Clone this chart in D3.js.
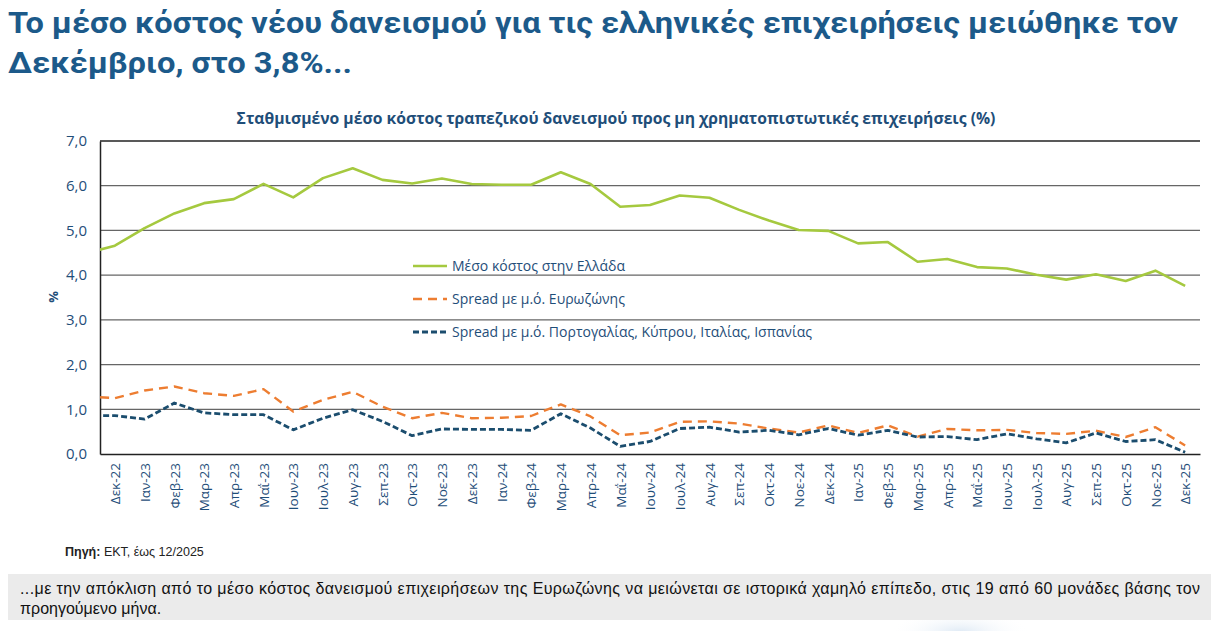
<!DOCTYPE html>
<html>
<head>
<meta charset="utf-8">
<script src="https://cdn.jsdelivr.net/npm/d3@7"></script>
<style>
	body { margin: 0; background: #fff; }
	svg { display: block; }
</style>
</head>
<body>
<div id="chart"></div>
<script>
// months, first one (Νοε-22) sits just left of the plot and is clipped
var months = ["Νοε-22", "Δεκ-22", "Ιαν-23", "Φεβ-23", "Μαρ-23", "Απρ-23", "Μαΐ-23", "Ιουν-23", "Ιουλ-23", "Αυγ-23",
	"Σεπ-23", "Οκτ-23", "Νοε-23", "Δεκ-23", "Ιαν-24", "Φεβ-24", "Μαρ-24", "Απρ-24", "Μαΐ-24", "Ιουν-24",
	"Ιουλ-24", "Αυγ-24", "Σεπ-24", "Οκτ-24", "Νοε-24", "Δεκ-24", "Ιαν-25", "Φεβ-25", "Μαρ-25", "Απρ-25",
	"Μαΐ-25", "Ιουν-25", "Ιουλ-25", "Αυγ-25", "Σεπ-25", "Οκτ-25", "Νοε-25", "Δεκ-25"];

var greece = [4.48, 4.66, 5.05, 5.38, 5.61, 5.70, 6.04, 5.74, 6.17, 6.39,
	6.13, 6.05, 6.16, 6.04, 6.02, 6.02, 6.30, 6.04, 5.53, 5.57,
	5.78, 5.73, 5.46, 5.22, 5.01, 4.99, 4.71, 4.74, 4.30, 4.36,
	4.18, 4.15, 4.01, 3.90, 4.02, 3.87, 4.10, 3.76];

var spreadEA = [1.29, 1.25, 1.42, 1.51, 1.36, 1.30, 1.45, 0.95, 1.21, 1.39,
	1.06, 0.80, 0.92, 0.80, 0.81, 0.85, 1.11, 0.84, 0.42, 0.48,
	0.72, 0.73, 0.68, 0.57, 0.48, 0.64, 0.47, 0.64, 0.39, 0.56,
	0.53, 0.54, 0.47, 0.45, 0.52, 0.38, 0.60, 0.19];

var spreadSouth = [0.86, 0.86, 0.78, 1.14, 0.92, 0.88, 0.88, 0.54, 0.80, 0.99,
	0.73, 0.41, 0.56, 0.55, 0.55, 0.53, 0.90, 0.58, 0.17, 0.28,
	0.57, 0.60, 0.49, 0.53, 0.43, 0.57, 0.42, 0.53, 0.38, 0.39,
	0.32, 0.45, 0.34, 0.25, 0.47, 0.28, 0.32, 0.04];

var yTicks = [0, 1, 2, 3, 4, 5, 6, 7];

var legendNames = ["Μέσο κόστος στην Ελλάδα", "Spread με μ.ό. Ευρωζώνης",
	"Spread με μ.ό. Πορτογαλίας, Κύπρου, Ιταλίας, Ισπανίας"];

var W = 1227, H = 631;
var plot = {left: 100, right: 1200, top: 141, bottom: 454};
var textBlue = "#1f4e79";

var svg = d3.select("#chart").append("svg")
	.attr("width", W)
	.attr("height", H)
	.style("font-family", "'Open Sans', 'Noto Sans', sans-serif");

// faint blue blob bottom right
var grad = svg.append("defs").append("radialGradient").attr("id", "blob");
grad.append("stop").attr("offset", "0%").attr("stop-color", "#dfeaf5");
grad.append("stop").attr("offset", "100%").attr("stop-color", "#ffffff").attr("stop-opacity", 0);
svg.append("ellipse")
	.attr("cx", 960)
	.attr("cy", 632)
	.attr("rx", 70)
	.attr("ry", 22)
	.attr("fill", "url(#blob)");

// main heading
var heading = ["Το μέσο κόστος νέου δανεισμού για τις ελληνικές επιχειρήσεις μειώθηκε τον", "Δεκέμβριο, στο 3,8%..."];
svg.selectAll(".heading")
	.data(heading).enter()
	.append("text")
	.attr("class", "heading")
	.attr("x", 8)
	.attr("y", function(d, i) { return 33 + 40 * i; })
	.attr("fill", "#1c5a8a")
	.style("font-family", "Roboto, sans-serif")
	.style("font-weight", "700")
	.style("font-size", "30px")
	.attr("textLength", function(d, i) { return i == 0 ? 1170 : 344; })
	.attr("lengthAdjust", "spacingAndGlyphs")
	.text(function(d) { return d; });

// chart subtitle
svg.append("text")
	.attr("x", 616)
	.attr("y", 124)
	.attr("text-anchor", "middle")
	.attr("fill", "#1f4e79")
	.style("font-weight", "700")
	.style("font-size", "15.7px")
	.text("Σταθμισμένο μέσο κόστος τραπεζικού δανεισμού προς μη χρηματοπιστωτικές επιχειρήσεις (%)");

var x = d3.scaleLinear()
	.domain([-0.5, months.length - 1.5])
	.range([plot.left, plot.right]);

var y = d3.scaleLinear()
	.domain([0, 7])
	.range([plot.bottom, plot.top]);

// gridlines
svg.append("g")
	.selectAll("line")
	.data(yTicks.slice(1)).enter()
	.append("line")
	.attr("x1", plot.left)
	.attr("x2", plot.right)
	.attr("y1", function(d) { return y(d); })
	.attr("y2", function(d) { return y(d); })
	.attr("stroke", function(d) { return d == 7 ? "#222" : "#666"; })
	.attr("stroke-width", 1.3);

// y axis
var yAxis = svg.append("g")
	.attr("transform", "translate(" + plot.left + ",0)")
	.call(d3.axisLeft(y).tickValues(yTicks).tickSize(0).tickPadding(13)
		.tickFormat(function(d) { return d3.format(".1f")(d).replace(".", ","); }));
yAxis.select(".domain").attr("stroke", "#222").attr("stroke-width", 1.5);
yAxis.selectAll("text")
	.attr("fill", textBlue)
	.style("font-size", "15px")
	.style("font-family", "'Open Sans', sans-serif");

svg.append("text")
	.attr("transform", "translate(58,297) rotate(-90)")
	.attr("text-anchor", "middle")
	.attr("fill", textBlue)
	.style("font-weight", "700")
	.style("font-size", "13px")
	.text("%");

// x axis
var xAxis = svg.append("g")
	.attr("transform", "translate(0," + plot.bottom + ")")
	.call(d3.axisBottom(x).tickValues(d3.range(0, months.length - 1)).tickSize(0)
		.tickFormat(function(d) { return months[d + 1]; }));
xAxis.select(".domain").attr("stroke", "#222").attr("stroke-width", 1.5);
xAxis.selectAll("text")
	.attr("transform", "rotate(-90)")
	.attr("text-anchor", "end")
	.attr("x", -9)
	.attr("y", 0)
	.attr("dy", "0.35em")
	.attr("fill", textBlue)
	.style("font-size", "13.5px")
	.style("font-family", "'Open Sans', sans-serif");

// clip lines to plot
svg.append("clipPath")
	.attr("id", "plotclip")
	.append("rect")
	.attr("x", plot.left)
	.attr("y", plot.top - 10)
	.attr("width", plot.right - plot.left)
	.attr("height", plot.bottom - plot.top + 10);

var line = d3.line()
	.x(function(d, i) { return x(i - 1); })
	.y(function(d) { return y(d); });

var series = [
	{values: greece, color: "#a5c93f", dash: null, width: 2.6},
	{values: spreadEA, color: "#ed7d31", dash: "9,6", width: 2.4},
	{values: spreadSouth, color: "#1b4d6e", dash: "6,3", width: 2.8}
];

svg.append("g")
	.attr("clip-path", "url(#plotclip)")
	.selectAll("path")
	.data(series).enter()
	.append("path")
	.attr("d", function(d) { return line(d.values); })
	.attr("fill", "none")
	.attr("stroke", function(d) { return d.color; })
	.attr("stroke-width", function(d) { return d.width; })
	.attr("stroke-dasharray", function(d) { return d.dash; })
	.attr("stroke-linejoin", "round");

// legend
var legend = svg.append("g")
	.selectAll("g")
	.data(series).enter()
	.append("g")
	.attr("transform", function(d, i) { return "translate(413," + (266 + 33 * i) + ")"; });

legend.append("line")
	.attr("x1", 0)
	.attr("x2", 34)
	.attr("stroke", function(d) { return d.color; })
	.attr("stroke-width", function(d) { return d.width; })
	.attr("stroke-dasharray", function(d) { return d.dash; });

legend.append("text")
	.attr("x", 39)
	.attr("dy", "0.35em")
	.attr("fill", textBlue)
	.style("font-size", "14px")
	.text(function(d, i) { return legendNames[i]; });

// source
var src = svg.append("text")
	.attr("x", 65)
	.attr("y", 556)
	.attr("fill", "#222")
	.style("font-family", "'Liberation Sans Narrow', 'Liberation Sans', sans-serif")
	.style("font-size", "12.5px");
src.append("tspan").style("font-weight", "700").text("Πηγή:");
src.append("tspan").text(" ΕΚΤ, έως 12/2025");

// note box
svg.append("rect")
	.attr("x", 8)
	.attr("y", 574)
	.attr("width", 1203)
	.attr("height", 46)
	.attr("fill", "#ebebeb");

var note = ["...με την απόκλιση από το μέσο κόστος δανεισμού επιχειρήσεων της Ευρωζώνης να μειώνεται σε ιστορικά χαμηλό επίπεδο, στις 19 από 60 μονάδες βάσης τον",
	"προηγούμενο μήνα."];
svg.selectAll(".note")
	.data(note).enter()
	.append("text")
	.attr("class", "note")
	.attr("x", 20)
	.attr("y", function(d, i) { return 594 + 20 * i; })
	.attr("fill", "#111")
	.style("font-family", "'Liberation Sans Narrow', 'Liberation Sans', sans-serif")
	.style("font-size", "16px")
	.attr("textLength", function(d, i) { return i == 0 ? 1180 : null; })
	.attr("lengthAdjust", "spacing")
	.text(function(d) { return d; });
</script>
</body>
</html>
